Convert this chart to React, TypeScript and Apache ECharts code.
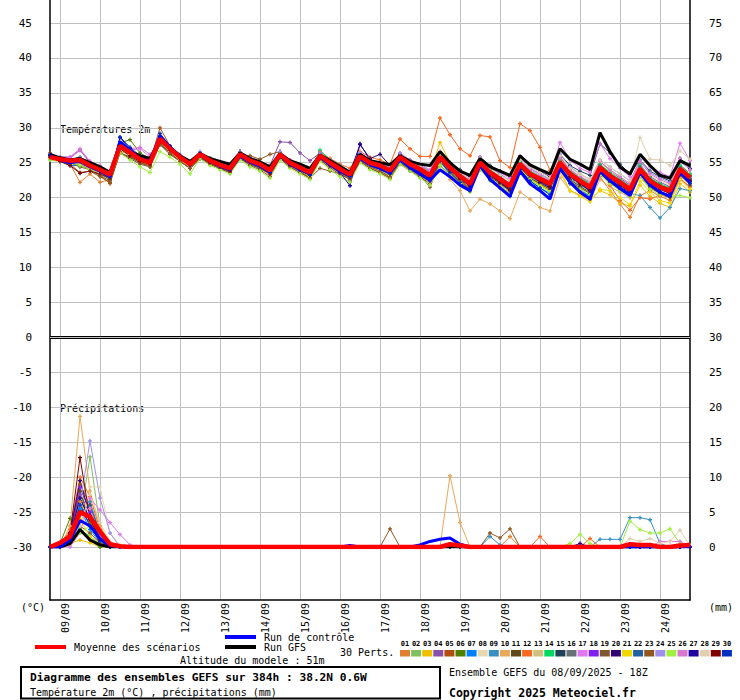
import React, { useEffect, useRef } from "react";
import * as echarts from "echarts";

// ---- axis labels / categories ----
const DAY_LABELS = ["09/09","10/09","11/09","12/09","13/09","14/09","15/09","16/09","17/09","18/09","19/09","20/09","21/09","22/09","23/09","24/09"];
const STEPS = Array.from({ length: 65 }, (_, i) => String(i * 6)); // hours after 08/09 18Z

// ---- temperature 2m (°C) ----
const MEAN_T = [25.8,25.5,25.3,25.4,24.6,24.0,23.3,27.4, 26.5,25.5,25.0,28.4,27.0,25.8,24.8,26.2, 25.3,24.7,24.2,26.2,25.3,24.8,23.9,26.2, 25.0,24.3,23.6,26.0,25.0,24.1,23.3,25.9, 25.0,24.6,23.9,25.8,24.8,24.1,23.2,25.8, 24.3,23.1,22.0,25.0,23.6,22.7,21.7,24.8, 23.4,22.7,22.0,25.0,23.4,22.4,21.5,24.3, 23.1,22.2,21.2,24.1,22.4,21.5,21.0,24.1, 22.9];
const CTRL_T = [26.0,25.4,25.0,25.2,24.4,23.8,23.0,28.0, 26.8,25.6,25.2,28.8,27.2,25.9,24.9,26.0, 25.2,24.5,24.0,25.9,25.1,24.5,23.7,26.0, 24.8,24.0,23.4,25.8,24.7,23.8,23.1,25.6, 24.7,24.2,23.5,25.4,24.3,23.4,22.5,24.0, 23.0,21.8,21.0,24.6,22.6,21.4,20.2,23.8, 22.0,21.0,19.8,24.2,22.2,20.8,19.8,23.8, 22.4,21.3,20.3,23.6,21.8,20.8,20.2,23.6, 22.2];
const GFS_T = [26.2,25.7,25.4,25.6,25.0,24.4,23.6,27.6, 26.6,26.0,25.6,28.2,27.2,26.0,25.2,26.3, 25.6,25.2,24.8,26.4,25.6,25.1,24.4,26.3, 25.3,24.8,24.2,26.1,25.3,24.5,23.6,26.2, 25.3,25.0,24.7,26.0,25.2,24.8,24.6,26.6, 25.0,23.8,23.2,25.6,24.4,23.8,23.2,26.0, 24.7,24.0,23.4,27.0,25.5,24.8,24.0,29.3, 26.6,24.4,23.4,26.2,24.6,23.2,22.8,25.3, 24.6];

const P01 = [26.0,25.2,24.8,22.2,23.4,22.2,22.6,26.8, 26.2,25.0,24.4,28.0,26.6,25.4,24.4,26.0, 25.0,24.4,23.8,26.0,25.0,24.4,23.5,26.4, 24.9,24.0,23.2,25.6,24.6,23.7,22.8,25.4, 24.6,24.0,23.2,25.2,24.2,23.4,22.5,25.2, 23.8,22.5,21.3,24.6,23.0,22.0,21.0,24.4, 23.0,22.0,21.4,24.6,22.6,21.0,20.2,23.0, 21.0,19.1,17.2,20.3,21.0,20.2,19.6,22.6, 21.6];
const P02 = [25.6,25.3,25.0,24.8,24.2,23.6,23.0,26.8, 26.0,25.0,24.6,27.8,26.4,25.2,24.2,25.8, 24.9,24.2,23.6,25.8,24.8,24.2,23.3,25.8, 24.6,23.8,23.1,25.6,24.4,23.5,22.6,25.4, 24.4,24.0,23.1,25.2,24.0,23.2,22.2,25.0, 23.6,22.4,21.2,24.2,22.8,21.8,20.8,24.0, 22.6,21.8,21.0,24.4,22.6,21.6,20.6,23.6, 22.4,21.4,20.4,23.6,21.8,20.8,20.2,23.4, 22.0];
const P03 = [25.6,25.4,25.4,25.0,24.4,23.8,23.2,27.2, 26.6,25.8,25.2,28.6,27.2,25.8,24.8,26.4, 25.4,24.8,24.2,26.4,25.4,24.8,24.0,26.4, 25.0,24.4,23.8,26.2,25.2,24.4,23.6,26.4, 25.4,24.8,24.2,26.4,25.2,24.6,23.6,27.9, 25.0,23.6,22.4,24.8,23.2,22.2,21.2,24.2, 22.8,22.0,21.2,23.6,21.0,20.4,19.8,21.0, 20.4,19.2,18.8,21.8,20.2,19.2,18.6,22.0, 20.8];
const P04 = [26.0,25.8,25.8,26.8,25.0,24.2,23.4,27.6, 26.8,26.0,25.4,28.8,27.4,26.0,25.0,26.4, 25.6,25.0,24.6,26.6,25.8,25.2,24.6,28.0, 27.9,26.4,25.3,26.4,25.2,24.4,23.6,26.2, 25.4,25.0,24.2,26.2,25.0,24.4,23.6,26.4, 24.8,23.6,22.4,25.6,24.2,23.4,22.4,25.6, 24.2,23.4,22.6,25.8,24.0,23.0,22.2,25.2, 23.8,22.8,21.8,24.8,23.0,22.2,21.6,24.8, 23.4];
const P05 = [26.4,25.6,25.2,24.8,24.0,23.2,22.0,26.6, 26.4,25.6,25.2,30.0,27.4,25.6,24.2,25.6, 24.8,24.2,23.6,25.6,24.8,24.2,23.4,25.6, 24.4,23.6,22.8,25.4,24.4,23.6,22.6,25.2, 24.2,23.6,22.8,25.0,24.0,23.2,22.2,25.2, 23.6,22.4,21.2,24.6,23.2,22.4,21.4,24.6, 23.2,22.6,21.8,25.2,23.6,22.6,21.8,24.6, 23.0,22.0,21.0,23.0,21.4,20.6,20.2,23.6, 22.4];
const P06 = [25.8,25.6,25.4,25.8,24.8,24.2,23.6,27.8, 28.3,26.4,25.6,28.6,27.2,26.0,25.0,26.4, 25.6,25.0,24.6,26.4,25.4,25.0,24.2,26.4, 25.2,24.6,24.0,26.4,25.4,24.6,23.8,26.2, 25.2,24.8,24.2,26.0,25.0,24.4,23.6,26.0, 24.6,23.4,22.4,25.4,24.0,23.0,22.0,25.2, 23.8,23.0,22.4,25.4,23.8,22.8,22.0,24.8, 23.4,22.6,21.6,24.6,22.8,21.8,21.4,24.4, 23.2];
const P07 = [25.8,25.2,24.6,24.6,24.6,23.8,23.0,27.2, 26.2,25.2,24.8,28.2,26.8,25.6,24.6,26.0, 25.0,24.4,23.8,25.8,24.8,24.2,23.4,26.0, 24.8,24.0,23.2,25.8,24.6,23.6,22.8,25.6, 24.6,24.0,23.2,25.4,24.4,23.6,22.6,25.2, 23.4,22.2,21.0,24.4,22.8,21.6,20.4,24.0, 22.4,21.4,20.6,24.4,22.4,21.2,20.2,23.6, 22.4,21.4,20.4,23.8,21.8,20.8,20.4,23.6, 22.2];
const P08 = [25.8,25.6,25.4,25.6,24.8,24.2,23.6,27.6, 26.6,25.6,25.2,28.4,27.2,26.0,25.0,26.4, 25.4,24.8,24.4,26.4,25.4,25.0,24.0,26.4, 25.2,24.6,23.8,26.2,25.2,24.4,23.6,26.2, 25.4,25.0,24.2,26.2,25.0,24.4,23.6,26.2, 24.8,23.6,22.6,25.4,24.2,23.4,22.4,25.4, 24.2,23.4,22.6,25.4,24.0,23.2,22.4,25.0, 23.8,23.0,22.0,24.6,23.2,22.4,21.8,24.8, 23.6];
const P09 = [25.6,25.4,25.2,25.2,24.4,23.8,23.2,27.2, 26.4,25.4,25.0,28.2,26.8,25.6,24.6,26.0, 25.2,24.6,24.0,26.0,25.2,24.6,23.8,26.2, 24.8,24.2,23.4,25.8,24.8,24.0,23.2,25.8, 24.8,24.4,23.6,25.6,24.6,23.8,23.0,25.6, 24.0,22.8,21.6,24.6,23.2,22.2,21.2,24.4, 23.0,22.2,21.4,24.6,22.8,21.8,21.0,23.8, 22.6,21.6,20.6,20.3,18.6,17.1,18.6,21.3, 21.0];
const P10 = [25.8,25.4,25.2,25.0,24.4,23.6,22.8,27.0, 26.2,25.2,24.8,28.0,26.6,25.4,24.4,25.8, 24.8,24.2,23.6,25.8,24.8,24.2,23.2,25.8, 24.6,23.8,23.0,25.6,24.4,23.6,22.6,25.4, 24.4,23.8,23.0,25.0,24.0,23.2,22.2,24.8, 22.6,21.0,18.1,19.8,19.1,18.1,17.0,20.8, 19.8,18.6,18.1,22.9,21.0,20.4,19.6,22.6, 21.6,20.8,20.0,23.2,21.6,20.8,20.4,23.4, 22.0];
const P11 = [25.6,25.2,25.0,24.6,24.0,23.4,22.6,26.4, 25.8,25.0,24.6,27.6,26.2,25.2,24.2,25.6, 24.8,24.2,23.6,25.6,24.8,24.2,23.4,25.8, 24.6,23.8,23.0,25.6,24.6,23.6,22.8,25.4, 24.6,24.2,23.4,25.4,24.4,23.6,22.8,25.4, 23.8,22.6,21.4,24.6,23.0,22.0,21.0,24.2, 22.8,22.0,21.2,24.4,22.6,21.6,20.8,23.4, 22.4,21.4,20.4,23.4,21.6,20.8,20.2,23.2, 22.0];
const P12 = [25.8,25.4,25.2,25.2,24.4,23.8,23.0,27.0, 26.4,25.4,25.0,28.2,26.8,25.8,24.8,26.4, 25.4,24.8,24.4,26.6,25.6,25.0,24.2,26.4, 25.4,24.6,24.0,26.6,25.6,24.8,24.2,26.6, 25.8,25.4,24.8,28.4,27.0,25.9,25.9,31.4, 29.0,27.0,26.0,28.9,28.7,25.3,24.3,30.6, 29.6,27.2,23.9,26.0,23.8,22.6,21.0,23.8, 21.8,19.6,18.2,20.0,19.8,20.4,20.0,22.8, 21.5];
const P13 = [25.4,25.2,25.0,24.8,24.2,23.6,23.0,26.8, 26.0,25.2,24.6,28.0,26.6,25.4,24.4,26.0, 25.0,24.4,23.8,26.0,25.0,24.4,23.6,26.0, 24.8,24.0,23.4,25.8,24.8,23.8,23.0,25.6, 24.8,24.2,23.6,25.6,24.6,23.8,23.0,25.6, 24.0,22.8,21.8,24.8,23.4,22.4,21.4,24.6, 23.2,22.4,21.6,24.8,23.0,22.0,21.2,24.0, 22.8,21.8,20.8,24.0,22.2,21.2,20.6,23.8, 22.6];
const P14 = [25.8,25.6,25.4,25.6,24.8,24.2,23.6,27.6, 26.6,25.8,25.2,28.6,27.2,26.0,25.0,26.4, 25.6,25.0,24.4,26.4,25.6,25.0,24.2,26.4, 25.2,24.6,23.8,26.8,25.4,24.4,23.6,26.2, 25.2,24.8,24.2,26.0,25.0,24.4,23.6,26.0, 24.6,23.4,22.4,25.4,24.0,23.0,22.0,25.2, 23.8,23.0,22.2,25.4,23.8,22.8,22.0,24.8, 23.6,22.6,21.6,24.6,22.8,22.0,21.4,24.6, 23.4];
const P15 = [25.8,25.6,25.4,25.6,25.0,24.4,23.8,27.6, 26.8,25.8,25.4,28.6,27.2,26.0,25.0,26.4, 25.6,25.0,24.6,26.6,25.6,25.0,24.2,26.4, 25.2,24.6,23.8,26.2,25.2,24.4,23.6,26.2, 25.4,25.0,24.4,26.2,25.4,24.6,23.8,26.4, 25.0,24.0,23.0,25.8,24.6,23.8,23.0,25.8, 24.6,23.8,23.0,26.2,24.6,23.8,23.2,27.7, 26.4,24.8,23.4,25.4,23.8,23.0,22.4,25.6, 24.2];
const P16 = [25.6,25.4,25.2,25.2,24.6,24.0,23.4,27.4, 26.4,25.4,25.0,28.4,27.0,25.8,24.8,26.2, 25.2,24.6,24.2,26.2,25.2,24.8,23.8,26.2, 25.0,24.4,23.6,26.0,25.0,24.2,23.4,25.8, 25.0,24.6,24.0,25.8,24.8,24.2,23.4,25.8, 24.4,23.2,22.2,25.2,23.8,22.8,21.8,25.0, 23.6,22.8,22.2,25.2,23.6,22.6,21.8,24.6, 23.4,22.4,21.4,24.4,22.6,21.8,21.2,24.2, 23.0];
const P17 = [26.0,25.8,25.8,27.0,25.2,24.4,23.6,27.2, 26.8,27.0,25.8,28.2,27.2,26.0,25.0,26.4, 25.4,24.8,24.4,26.4,25.4,25.0,24.0,26.6, 25.4,24.6,24.0,26.2,25.2,24.4,23.8,26.4, 25.4,25.0,24.4,26.4,25.4,24.8,24.0,26.6, 25.0,23.8,22.8,25.8,24.4,23.6,22.8,26.0, 24.6,23.8,23.2,27.9,25.4,24.2,23.6,27.7, 25.6,24.2,23.0,26.0,24.4,23.6,23.0,27.8, 25.3];
const P18 = [25.8,25.4,25.2,25.4,24.8,24.2,23.4,27.6, 26.6,25.6,25.0,28.4,27.0,25.8,24.6,26.2, 25.2,24.6,24.0,26.2,25.2,24.6,23.6,26.0, 24.8,24.2,23.4,25.8,24.8,24.0,23.2,25.8, 24.8,24.4,23.8,25.8,24.6,23.8,23.0,25.6, 24.0,22.8,21.6,24.8,23.2,22.2,21.2,24.4, 23.2,22.4,21.6,25.0,23.2,22.2,21.2,24.4, 23.0,22.0,21.0,24.0,22.2,21.2,20.6,23.8, 22.6];
const P19 = [25.8,25.4,25.0,24.4,24.0,23.2,22.4,26.4, 25.6,24.8,24.4,27.6,26.4,25.2,24.2,25.6, 24.8,24.2,23.6,25.6,24.6,24.0,23.0,25.6, 24.4,23.6,22.8,25.4,24.2,23.4,22.6,25.2, 24.2,23.6,22.8,24.8,23.8,23.0,22.0,24.6, 23.4,22.2,21.0,24.0,22.6,21.6,20.6,23.8, 22.6,21.8,21.0,24.2,22.4,21.4,20.6,23.4, 22.2,21.2,20.2,23.4,21.6,20.6,20.0,23.2, 21.8];
const P20 = [25.6,25.4,25.2,25.4,24.6,24.0,23.2,27.4, 26.6,25.6,25.2,28.4,27.0,25.8,24.8,26.2, 25.4,24.8,24.2,26.2,25.4,24.8,24.0,26.2, 25.2,24.4,23.6,26.2,25.2,24.4,23.6,27.6, 25.6,26.2,24.6,25.8,24.8,24.0,23.0,25.8, 24.2,23.0,21.8,24.8,23.4,22.4,21.4,24.6, 23.2,22.4,21.6,24.8,23.0,22.0,21.0,24.0, 22.8,21.8,20.8,23.8,21.8,20.8,20.2,23.8, 22.4];
const P21 = [25.6,25.4,25.2,25.2,24.4,23.8,23.0,27.0, 26.2,25.4,24.8,28.2,26.8,25.6,24.6,26.0, 25.0,24.4,23.8,26.0,25.0,24.4,23.4,25.8, 24.6,23.8,23.0,25.6,24.6,23.8,23.0,25.6, 24.6,24.0,23.2,25.4,24.2,23.4,22.6,25.2, 23.6,22.2,21.0,24.2,22.6,21.6,20.6,24.0, 22.6,21.8,21.0,24.0,21.0,20.2,19.4,21.2, 21.0,20.0,19.0,22.4,20.8,19.6,19.2,22.6, 21.2];
const P22 = [25.8,25.6,25.4,25.6,24.8,24.2,23.6,27.8, 26.8,25.8,25.2,28.6,27.2,25.8,24.8,26.4, 25.4,24.8,24.2,26.4,25.4,24.8,23.8,26.2, 25.0,24.4,23.6,26.0,25.0,24.2,23.4,26.0, 25.0,24.6,23.8,25.8,24.8,24.0,23.2,25.8, 24.2,23.0,21.8,24.8,23.4,22.4,21.4,24.6, 23.4,22.6,21.8,25.0,23.2,22.2,21.4,24.2, 23.0,22.0,21.2,24.2,22.2,21.4,20.8,24.2, 22.8];
const P23 = [25.8,25.2,24.8,23.6,23.8,23.0,22.2,26.4, 25.8,25.0,24.6,27.8,26.4,25.2,24.2,25.8, 24.8,24.2,23.6,25.8,26.0,25.5,26.2,26.6, 24.8,23.8,22.8,24.2,23.8,23.4,22.6,25.2, 24.4,23.8,23.0,25.0,24.0,23.2,21.5,25.2, 23.8,22.8,21.8,24.8,23.4,22.6,21.8,25.0, 23.4,22.6,21.8,25.2,23.4,22.4,21.6,24.4, 23.0,22.0,21.0,24.2,22.4,21.6,21.0,24.0, 22.6];
const P24 = [26.0,25.6,25.4,25.8,25.0,24.2,23.4,27.6, 26.8,25.8,25.4,28.6,27.2,26.2,25.2,26.6, 25.6,25.0,24.4,26.6,25.6,25.0,24.2,26.6, 25.4,24.6,24.0,26.4,25.4,24.6,23.8,26.4, 25.4,25.0,24.4,26.4,25.2,24.6,23.8,26.4, 24.8,23.6,22.6,25.6,24.2,23.4,22.4,25.6, 24.2,23.4,22.6,26.2,24.4,23.4,22.6,25.4, 24.4,23.4,22.4,25.4,23.6,22.8,22.2,25.2, 24.0];
const P25 = [25.4,25.2,25.0,24.6,24.0,23.4,22.8,26.4, 25.4,24.4,23.6,26.6,25.8,24.8,23.4,25.6, 24.6,24.0,23.4,25.4,24.4,23.8,22.8,25.4, 24.2,23.4,22.6,25.2,24.0,23.0,22.2,25.0, 24.0,23.4,22.6,24.8,23.8,22.8,21.8,24.6, 23.2,22.0,20.8,24.0,22.4,21.4,20.6,23.8, 22.6,21.6,20.8,24.0,22.2,21.2,20.4,23.2, 22.0,21.0,20.2,23.0,21.2,20.4,20.2,20.3, 20.0];
const P26 = [26.0,25.6,25.6,26.8,25.2,24.6,23.8,27.4, 27.0,27.2,26.2,28.2,26.8,25.8,24.6,26.2, 25.4,24.8,24.2,26.4,25.4,24.8,24.0,26.2, 25.0,24.4,23.6,26.0,25.0,24.2,23.4,25.8, 25.2,24.8,24.0,26.0,24.8,24.2,23.4,26.0, 24.6,23.4,22.4,25.4,23.8,22.8,21.8,25.4, 24.0,23.2,22.4,25.6,24.0,23.0,22.2,25.2, 24.0,23.0,22.0,25.2,23.4,22.6,22.0,25.6, 24.0];
const P27 = [26.0,25.6,25.2,25.2,24.6,23.8,23.0,28.6, 27.0,25.8,25.2,28.8,27.2,25.8,24.8,26.2, 25.2,24.6,24.0,26.2,25.2,24.6,23.6,26.0, 24.8,24.2,23.4,25.8,24.6,23.6,21.7,27.7, 25.4,24.8,24.0,26.0,24.8,24.0,23.0,25.8, 24.0,22.8,21.6,24.8,23.2,22.2,21.0,24.4, 23.2,22.2,21.4,24.8,23.0,22.0,21.0,24.0, 22.6,21.6,20.6,23.8,21.8,20.8,20.2,23.6, 22.4];
const P28 = [25.8,25.6,25.4,25.4,24.8,24.2,23.4,27.4, 26.4,25.6,25.2,28.4,27.0,25.8,24.8,26.4, 25.4,24.8,24.4,26.4,25.4,24.8,24.0,26.2, 25.0,24.4,23.8,26.0,25.0,24.4,23.6,26.0, 25.2,24.8,24.2,26.0,25.0,24.4,23.6,26.2, 24.8,23.6,22.6,25.6,24.2,23.2,22.4,25.4, 24.4,23.6,22.8,26.0,24.2,23.4,22.6,25.4, 24.4,23.4,22.4,28.6,25.5,25.4,24.6,26.7, 25.5];
const P29 = [25.8,25.2,24.6,23.5,23.8,23.4,22.8,27.0, 26.0,25.2,24.8,28.0,26.8,25.6,24.6,26.0, 25.0,24.4,23.8,26.0,25.0,24.4,23.4,25.8, 24.6,24.0,23.2,25.6,24.6,23.8,23.0,25.6, 24.8,24.2,23.6,25.4,24.4,23.6,22.8,25.4, 24.0,22.8,21.8,24.8,23.2,22.2,21.2,24.4, 23.2,22.4,21.6,24.8,23.0,22.0,21.2,24.0, 22.8,21.8,20.8,23.8,22.0,21.2,20.6,23.6, 22.4];
const P30 = [26.2,25.6,25.2,25.2,24.6,23.8,23.0,28.7, 27.2,26.0,25.4,29.2,27.4,26.0,24.8,26.4, 25.4,24.8,24.2,26.4,25.2,24.6,23.6,26.0, 24.8,24.0,23.2,25.8,24.8,23.8,23.0,25.8, 24.8,24.2,23.4,25.4,24.2,23.4,22.4,25.2, 23.6,22.2,21.0,24.4,22.6,21.4,20.2,24.0, 22.4,21.4,20.4,24.2,22.0,20.8,19.8,23.6, 22.4,21.4,20.6,23.8,21.8,20.8,20.2,23.4, 22.0];

// ---- precipitation (mm per 6h), given as [step index, mm]; all other steps are 0 ----
const RMEAN = [[1,0.6],[2,1.5],[3,5.0],[4,4.3],[5,2.2],[6,0.4],[7,0.1],[40,0.4],[41,0.2],[58,0.4],[59,0.3],[60,0.3],[63,0.2],[64,0.3]];
const RCTRL = [[2,1.0],[3,3.8],[4,3.0],[5,1.2],[6,0.2],[30,0.2],[37,0.3],[38,0.8],[39,1.1],[40,1.3],[41,0.4]];
const RGFS = [[2,0.5],[3,2.5],[4,1.0],[5,0.3],[64,0.3]];
const R01 = [[2,1.0],[3,6.5],[4,3.0],[5,0.8],[46,1.5]];
const R02 = [[2,0.8],[3,4.0],[4,12.9],[5,3.0],[6,0.5]];
const R03 = [[2,0.5],[3,1.0],[4,0.6]];
const R04 = [[2,1.5],[3,7.5],[4,5.0],[5,1.5]];
const R05 = [[2,2.0],[3,9.0],[4,6.0],[5,1.0]];
const R06 = [[1,0.5],[2,4.1],[3,2.5],[4,1.0]];
const R07 = [[2,1.2],[3,5.5],[4,2.5],[5,0.6]];
const R08 = [[3,3.0],[4,8.6],[5,8.6],[6,2.0],[7,0.3]];
const R09 = [[2,1.0],[3,4.5],[4,6.5],[5,2.0],[44,1.5],[45,0.3],[55,1.1],[56,1.1],[57,1.1],[58,4.2],[59,4.2],[60,3.9],[61,0.5]];
const R10 = [[2,3.0],[3,18.7],[4,8.0],[5,3.0],[6,0.5],[40,10.2],[41,3.5]];
const R11 = [[2,1.8],[3,8.0],[4,3.5],[5,0.5]];
const R12 = [[2,2.5],[3,10.0],[4,7.2],[5,2.5],[6,0.4],[49,1.5],[54,1.2]];
const R13 = [[2,0.8],[3,3.5],[4,5.5],[5,2.0]];
const R14 = [[2,0.6],[3,2.5],[4,1.5],[5,0.3]];
const R15 = [[2,1.0],[3,5.0],[4,3.5],[5,1.0]];
const R16 = [[2,1.2],[3,6.0],[4,4.0],[5,1.2]];
const R17 = [[3,2.0],[4,7.0],[5,5.3],[6,3.5],[7,1.8],[8,0.3]];
const R18 = [[2,1.5],[3,8.5],[4,5.0],[5,1.5],[41,0.3]];
const R19 = [[2,0.5],[3,3.0],[4,2.0],[5,0.5]];
const R20 = [[2,2.0],[3,9.5],[4,4.5],[5,1.0],[53,0.5]];
const R21 = [[2,0.5],[3,4.0],[4,1.5],[5,0.5]];
const R22 = [[2,1.0],[3,5.0],[4,6.0],[5,2.0]];
const R23 = [[2,1.5],[3,7.0],[4,3.5],[5,0.5],[34,2.6],[44,2.0],[45,1.3],[46,2.6]];
const R24 = [[2,1.5],[3,6.0],[4,15.2],[5,7.0],[6,2.0]];
const R25 = [[2,0.5],[3,2.0],[4,3.0],[5,1.0],[52,0.5],[53,1.8],[54,0.5],[58,3.7],[59,2.5],[60,2.0],[61,2.0],[62,2.6],[63,0.5]];
const R26 = [[2,1.0],[3,4.5],[4,5.5],[5,1.5],[61,0.8],[62,0.8],[63,0.8]];
const R27 = [[2,1.5],[3,7.0],[4,4.0],[5,1.0]];
const R28 = [[2,0.8],[3,3.0],[4,7.5],[5,3.5],[6,0.8],[58,1.2],[59,0.8],[60,1.2],[61,0.5],[62,0.8],[63,2.4],[64,0.2]];
const R29 = [[2,2.0],[3,12.8],[4,4.0],[5,1.0]];
const R30 = [[2,1.2],[3,6.0],[4,3.0],[5,0.8]];

const PERT_COLORS = ["#e07f30","#80c060","#f0c000","#8850a8","#b05010","#508000","#0080ff","#e8d8b0","#3890c0","#e8a858","#604818","#f86820","#d0c080","#00d860","#204058","#687078","#e078f0","#8020f0","#805830","#300070","#f0d800","#2060a0","#905820","#a090e8","#a0f040","#d878d0","#2000a0","#e0d0b0","#800000","#0030c0"];

const PERTS_T = [P01,P02,P03,P04,P05,P06,P07,P08,P09,P10,P11,P12,P13,P14,P15,P16,P17,P18,P19,P20,P21,P22,P23,P24,P25,P26,P27,P28,P29,P30];
const PERTS_R = [R01,R02,R03,R04,R05,R06,R07,R08,R09,R10,R11,R12,R13,R14,R15,R16,R17,R18,R19,R20,R21,R22,R23,R24,R25,R26,R27,R28,R29,R30];

function expandRain(pairs: number[][]): number[] {
  const out: number[] = STEPS.map(() => 0);
  pairs.forEach(([i, v]) => { out[i] = v; });
  return out;
}

const FONT = '"DejaVu Sans Mono", monospace';
const PLUS = "path://M1,0H2V1H3V2H2V3H1V2H0V1H1Z";
const GRID_GRAY = "#c0c0c0";

function buildOption() {
  const dayTick = (index: number) => index % 4 === 1;
  const series: any[] = [];
  PERTS_T.forEach((d, k) => {
    series.push({
      type: "line", name: "Pert " + (k + 1) + " T2m", xAxisIndex: 1, yAxisIndex: 2, data: d,
      symbol: PLUS, symbolSize: 4, silent: true, z: 2,
      lineStyle: { width: 1, color: PERT_COLORS[k] }, itemStyle: { color: PERT_COLORS[k] },
    });
  });
  PERTS_R.forEach((d, k) => {
    series.push({
      type: "line", name: "Pert " + (k + 1) + " RR", xAxisIndex: 1, yAxisIndex: 3, data: expandRain(d),
      symbol: PLUS, symbolSize: 4, silent: true, z: 2,
      lineStyle: { width: 1, color: PERT_COLORS[k] }, itemStyle: { color: PERT_COLORS[k] },
    });
  });
  const main = (name: string, data: number[], yi: number, color: string, width: number, extra: any = {}) => ({
    type: "line", name, xAxisIndex: 1, yAxisIndex: yi, data, symbol: "none", silent: true, z: 3,
    lineStyle: { width, color }, itemStyle: { color }, ...extra,
  });
  series.push(main("Run GFS T2m", GFS_T, 2, "#000000", 3));
  series.push(main("Run GFS RR", expandRain(RGFS), 3, "#000000", 3));
  series.push(main("Run de contrôle T2m", CTRL_T, 2, "#0000ff", 3));
  series.push(main("Run de contrôle RR", expandRain(RCTRL), 3, "#0000ff", 3));
  series.push(main("Moyenne T2m", MEAN_T, 2, "#ff0000", 4.5, {
    markLine: {
      silent: true, symbol: "none", label: { show: false }, animation: false,
      data: [
        { yAxis: 0, lineStyle: { color: "#000", width: 3, type: "solid" } },
        { yAxis: 0, lineStyle: { color: GRID_GRAY, width: 1, type: "solid" } },
      ],
    },
  }));
  series.push(main("Moyenne RR", expandRain(RMEAN), 3, "#ff0000", 4.5));

  const txt = (x: number, y: number, text: string, font = "10px " + FONT, align = "left") => ({
    type: "text", x, y, silent: true,
    style: { text, fill: "#000", font, align, verticalAlign: "middle" },
  });
  const graphics: any[] = [
    txt(60, 129, "Températures 2m"),
    txt(60, 408, "Précipitations"),
    txt(21, 607, "(°C)"),
    txt(709, 607, "(mm)"),
    { type: "line", silent: true, shape: { x1: 35, y1: 647, x2: 66, y2: 647 }, style: { stroke: "#ff0000", lineWidth: 4 } },
    txt(74, 647, "Moyenne des scénarios"),
    { type: "line", silent: true, shape: { x1: 225, y1: 637, x2: 256, y2: 637 }, style: { stroke: "#0000ff", lineWidth: 4 } },
    txt(264, 637, "Run de contrôle"),
    { type: "line", silent: true, shape: { x1: 225, y1: 647, x2: 256, y2: 647 }, style: { stroke: "#000000", lineWidth: 4 } },
    txt(264, 647, "Run GFS"),
    txt(340, 652, "30 Perts."),
    txt(180, 660.5, "Altitude du modele : 51m"),
    { type: "rect", silent: true, shape: { x: 21, y: 667, width: 419, height: 31.5 }, style: { fill: "none", stroke: "#000", lineWidth: 2 } },
    txt(30, 677.5, "Diagramme des ensembles GEFS sur 384h : 38.2N 0.6W", "bold 11.2px " + FONT),
    txt(30, 692, "Température 2m (°C) , précipitations (mm)"),
    txt(449, 672.5, "Ensemble GEFS du 08/09/2025 - 18Z"),
    txt(449, 692.5, "Copyright 2025 Meteociel.fr", "bold 11.5px " + FONT),
  ];
  PERT_COLORS.forEach((c, k) => {
    const x = 400 + k * 11.1;
    graphics.push({ type: "rect", silent: true, shape: { x, y: 650, width: 10, height: 6.5 }, style: { fill: c } });
    graphics.push(txt(x + 5, 643.5, String(k + 1).padStart(2, "0"), "bold 7px " + FONT, "center"));
  });

  return {
    animation: false,
    backgroundColor: "#ffffff",
    textStyle: { fontFamily: FONT, color: "#000" },
    grid: [
      { left: 50, right: 50, top: 0, bottom: 100, containLabel: false },
      { left: 50, right: 50, top: 23, bottom: 153, containLabel: false },
    ],
    xAxis: [
      {
        type: "category", gridIndex: 0, data: STEPS, boundaryGap: false,
        axisLine: { show: true, onZero: false, lineStyle: { color: "#000", width: 1.5 } },
        axisTick: { show: false },
        splitLine: { show: true, interval: dayTick, lineStyle: { color: GRID_GRAY, width: 1 } },
        axisLabel: {
          show: true, interval: dayTick, rotate: 90, margin: 3, verticalAlign: "top",
          fontFamily: FONT, fontSize: 10, color: "#000",
          formatter: (_v: string, index: number) => DAY_LABELS[(index - 1) / 4] ?? "",
        },
      },
      { type: "category", gridIndex: 1, data: STEPS, boundaryGap: false, show: false },
    ],
    yAxis: [
      { type: "value", gridIndex: 0, min: 0, max: 1, position: "left",
        axisLine: { show: true, onZero: false, lineStyle: { color: "#000", width: 1.5 } },
        axisTick: { show: false }, axisLabel: { show: false }, splitLine: { show: false } },
      { type: "value", gridIndex: 0, min: 0, max: 1, position: "right",
        axisLine: { show: true, onZero: false, lineStyle: { color: "#000", width: 1.5 } },
        axisTick: { show: false }, axisLabel: { show: false }, splitLine: { show: false } },
      { type: "value", gridIndex: 1, min: -30, max: 45, interval: 5, position: "left",
        axisLine: { show: false }, axisTick: { show: false },
        axisLabel: { margin: 18, fontFamily: FONT, fontSize: 11, color: "#000" },
        splitLine: { show: true, lineStyle: { color: GRID_GRAY, width: 1 } } },
      { type: "value", gridIndex: 1, min: 0, max: 75, interval: 5, position: "right",
        axisLine: { show: false }, axisTick: { show: false },
        axisLabel: { margin: 19, fontFamily: FONT, fontSize: 11, color: "#000" },
        splitLine: { show: false } },
    ],
    series,
    graphic: graphics,
  };
}

export default function App() {
  const ref = useRef<HTMLDivElement>(null);
  useEffect(() => {
    if (!ref.current) return;
    const chart = echarts.init(ref.current, undefined, { renderer: "svg" });
    chart.setOption(buildOption() as any);
    return () => chart.dispose();
  }, []);
  return <div ref={ref} style={{ position: "fixed", left: 0, top: 0, width: 740, height: 700, background: "#fff" }} />;
}
